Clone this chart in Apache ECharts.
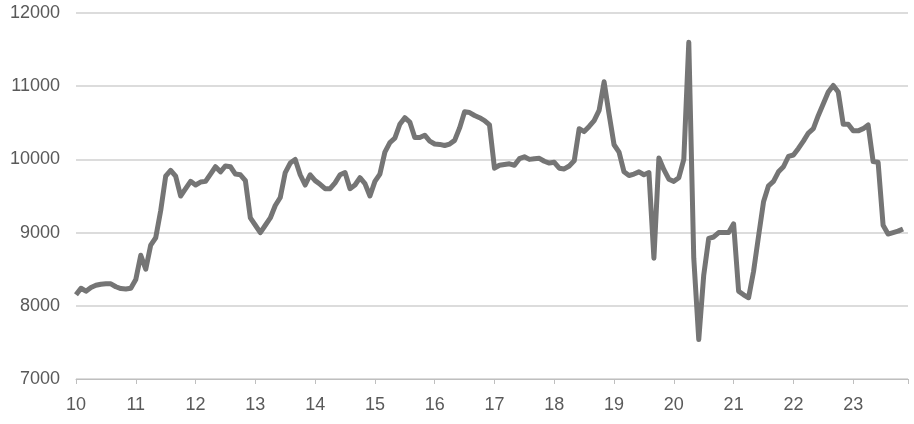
<!DOCTYPE html>
<html>
<head>
<meta charset="utf-8">
<script src="https://cdn.jsdelivr.net/npm/echarts@6/dist/echarts.min.js"></script>
<style>
html,body{margin:0;padding:0;background:#fff;}
#c{width:914px;height:424px;}
</style>
</head>
<body>
<div id="c"></div>
<script>
// Year tick labels (one per January)
var yearLabels = ['10','11','12','13','14','15','16','17','18','19','20','21','22','23'];

// Monthly values, Jan 2010 .. Nov 2023 (Dec 2023 empty)
var y2010 = [8150,8240,8200,8250,8280,8295,8300,8300,8260,8235,8230,8240];
var y2011 = [8360,8690,8500,8830,8930,9300,9770,9850,9770,9500,9600,9700];
var y2012 = [9650,9690,9700,9800,9900,9830,9910,9900,9800,9790,9710,9200];
var y2013 = [9100,9000,9100,9200,9370,9480,9820,9950,10000,9790,9650,9790];
var y2014 = [9710,9660,9600,9600,9680,9790,9820,9600,9650,9750,9670,9500];
var y2015 = [9700,9800,10100,10230,10290,10480,10570,10510,10300,10300,10330,10250];
var y2016 = [10210,10205,10190,10210,10260,10430,10650,10640,10600,10570,10530,10470];
var y2017 = [9880,9920,9930,9940,9920,10010,10035,10000,10010,10015,9975,9950];
var y2018 = [9960,9880,9870,9910,9980,10420,10380,10450,10530,10670,11060,10620];
var y2019 = [10200,10100,9830,9780,9800,9830,9790,9820,8650,10020,9860,9730];
var y2020 = [9700,9750,10000,11600,8650,7540,8420,8920,8940,9000,9000,9000];
var y2021 = [9120,8200,8150,8110,8470,8950,9420,9640,9700,9830,9900,10040];
var y2022 = [10060,10150,10250,10360,10420,10600,10760,10920,11010,10920,10480,10480];
var y2023 = [10390,10390,10420,10470,9970,9960,9100,8980,9000,9020,9050,null];

var yearValues = [y2010,y2011,y2012,y2013,y2014,y2015,y2016,y2017,y2018,y2019,y2020,y2021,y2022,y2023];

var categories = [];
var values = [];
for (var y = 0; y < yearLabels.length; y++) {
  for (var m = 0; m < 12; m++) {
    categories.push(m === 0 ? yearLabels[y] : '');
    values.push(yearValues[y][m]);
  }
}

var chart = echarts.init(document.getElementById('c'), null, {renderer:'canvas'});
var font = "'Liberation Sans',Arial,sans-serif";
chart.setOption({
  animation: false,
  grid: {left: 76, right: 6, top: 13, bottom: 45, containLabel: false},
  xAxis: {
    type: 'category',
    data: categories,
    boundaryGap: false,
    axisLine: {lineStyle: {color: '#bfbfbf', width: 1}},
    axisTick: {show: true, interval: 11, length: 5, lineStyle: {color: '#bfbfbf'}},
    axisLabel: {interval: 0, color: '#595959', fontSize: 18, fontFamily: font, margin: 17},
    splitLine: {show: false}
  },
  yAxis: {
    type: 'value',
    min: 7000, max: 12000, interval: 1000,
    axisLine: {show: false},
    axisTick: {show: false},
    axisLabel: {color: '#595959', fontSize: 18, fontFamily: font, margin: 16,
      formatter: function (v) { return String(v); }},
    splitLine: {lineStyle: {color: '#d0d0d0', width: 1.5}}
  },
  series: [{
    type: 'line',
    data: values,
    showSymbol: false,
    symbol: 'none',
    lineStyle: {color: '#757575', width: 5, join: 'round'},
    connectNulls: false
  }]
});
</script>
</body>
</html>
